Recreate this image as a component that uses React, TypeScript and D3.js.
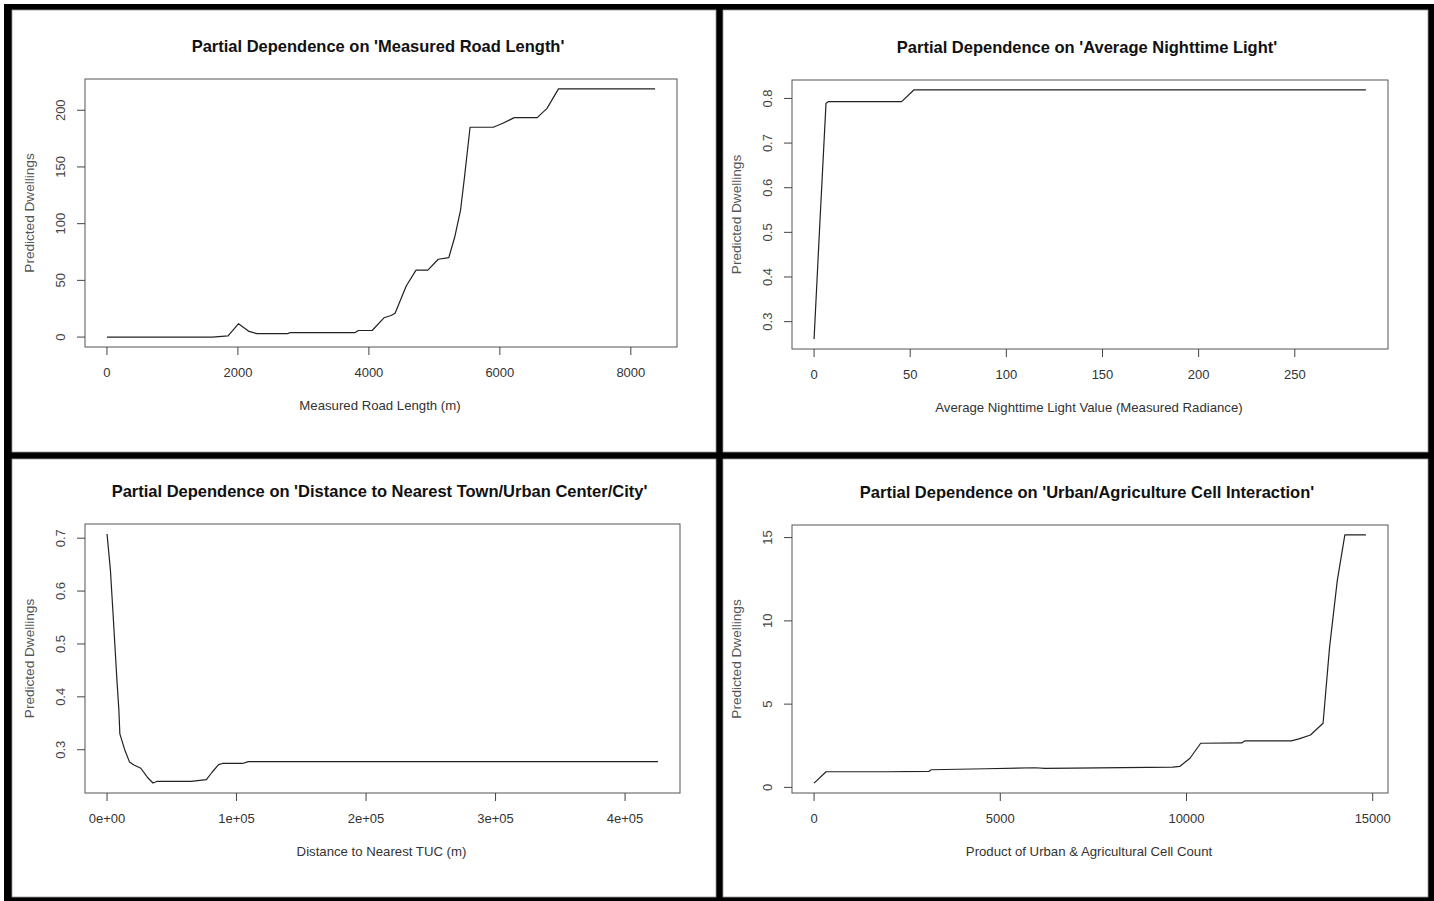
import React from "react";
import * as d3 from "d3";

// ---- data ----
const roadLengthX = [0, 1610, 1850, 2010, 2170, 2290, 2760, 2800, 3790, 3840, 4050, 4230, 4340, 4400, 4570, 4720, 4900, 5060, 5220, 5310, 5400, 5460, 5545, 5900, 6045, 6220, 6570, 6720, 6895, 8370];
const roadLengthY = [0, 0, 1, 11.8, 5, 3, 3, 4, 4, 5.8, 5.8, 17, 19, 21, 45, 59, 59, 68.6, 70, 88, 112, 141, 185, 185, 188.5, 193.5, 193.5, 201.7, 218.8, 218.8];
const roadTicksX = [0, 2000, 4000, 6000, 8000];
const roadTicksY = [0, 50, 100, 150, 200];

const nightLightX = [0, 3, 6.2, 7.6, 45.5, 51.9, 287];
const nightLightY = [0.261, 0.52, 0.789, 0.793, 0.793, 0.819, 0.819];
const lightTicksX = [0, 50, 100, 150, 200, 250];
const lightTicksY = [0.3, 0.4, 0.5, 0.6, 0.7, 0.8];

const distanceX = [0, 2600, 4600, 6100, 7600, 9100, 9900, 13500, 17300, 20800, 26100, 31100, 35500, 38400, 65000, 76700, 81100, 86100, 89100, 104600, 109100, 425400];
const distanceY = [0.708, 0.64, 0.559, 0.496, 0.433, 0.377, 0.33, 0.301, 0.277, 0.271, 0.265, 0.248, 0.237, 0.24, 0.24, 0.2435, 0.2574, 0.2718, 0.274, 0.274, 0.2775, 0.2775];
const distTicksX = [0, 100000, 200000, 300000, 400000];
const distTickLabels = ["0e+00", "1e+05", "2e+05", "3e+05", "4e+05"];
const distTicksY = [0.3, 0.4, 0.5, 0.6, 0.7];

const urbanAgX = [0, 322, 1934, 3080, 3144, 4604, 5935, 6200, 6964, 9632, 9818, 10094, 10381, 11481, 11561, 12814, 13021, 13329, 13667, 13842, 14048, 14252, 14818];
const urbanAgY = [0.26, 0.94, 0.94, 0.96, 1.06, 1.12, 1.18, 1.14, 1.16, 1.22, 1.26, 1.75, 2.65, 2.67, 2.79, 2.79, 2.91, 3.15, 3.85, 8.42, 12.4, 15.16, 15.16];
const urbanTicksX = [0, 5000, 10000, 15000];
const urbanTicksY = [0, 5, 10, 15];

const titles = [
  "Partial Dependence on 'Measured Road Length'",
  "Partial Dependence on 'Average Nighttime Light'",
  "Partial Dependence on 'Distance to Nearest Town/Urban Center/City'",
  "Partial Dependence on 'Urban/Agriculture Cell Interaction'",
];
const xLabels = [
  "Measured Road Length (m)",
  "Average Nighttime Light Value (Measured Radiance)",
  "Distance to Nearest TUC (m)",
  "Product of Urban & Agricultural Cell Count",
];
const yLabel = "Predicted Dwellings";

const W = 1434;
const H = 901;
const font = "'Liberation Sans', Arial, sans-serif";

type Box = { l: number; r: number; t: number; b: number };

// R style padding of the data range (4% each side)
const padded = (v: number[]): [number, number] => {
  const [lo, hi] = d3.extent(v) as [number, number];
  const p = (hi - lo) * 0.04;
  return [lo - p, hi + p];
};

const Panel = (props: {
  frame: [number, number, number, number];
  box: Box;
  xs: number[];
  ys: number[];
  xTicks: number[];
  xTickLabels: string[];
  yTicks: number[];
  title: string;
  xLabel: string;
}) => {
  const { frame, box, xs, ys, xTicks, xTickLabels, yTicks, title, xLabel } = props;
  const x = d3.scaleLinear().domain(padded(xs)).range([box.l, box.r]);
  const y = d3.scaleLinear().domain(padded(ys)).range([box.b, box.t]);
  const pts: [number, number][] = xs.map((d, i) => [d, ys[i]]);
  const line = d3
    .line<[number, number]>()
    .x((d) => x(d[0]))
    .y((d) => y(d[1]));
  const cx = (box.l + box.r) / 2 - 3;
  const cy = (box.t + box.b) / 2;

  return (
    <g>
      <rect x={frame[0]} y={frame[1]} width={frame[2] - frame[0]} height={frame[3] - frame[1]} fill="#fff" stroke="#999" strokeWidth={0.8} />
      <text x={cx} y={box.t - 32.5} dy="0.35em" textAnchor="middle" fontFamily={font} fontWeight="bold" fontSize={16.5} fill="#111">
        {title}
      </text>
      <rect x={box.l} y={box.t} width={box.r - box.l} height={box.b - box.t} fill="none" stroke="#555" strokeWidth={1} />
      {/* x axis */}
      {xTicks.map((t, i) => (
        <g key={"xt" + i}>
          <line x1={x(t)} x2={x(t)} y1={box.b} y2={box.b + 8} stroke="#444" strokeWidth={1} />
          <text x={x(t)} y={box.b + 25} dy="0.35em" textAnchor="middle" fontFamily={font} fontSize={13} fill="#333">
            {xTickLabels[i]}
          </text>
        </g>
      ))}
      {/* y axis */}
      {yTicks.map((t, i) => (
        <g key={"yt" + i}>
          <line x1={box.l - 8} x2={box.l} y1={y(t)} y2={y(t)} stroke="#444" strokeWidth={1} />
          <text transform={`translate(${box.l - 25},${y(t)}) rotate(-90)`} dy="0.35em" textAnchor="middle" fontFamily={font} fontSize={13} fill="#444">
            {String(t)}
          </text>
        </g>
      ))}
      <text x={cx + 2} y={box.b + 58.5} dy="0.35em" textAnchor="middle" fontFamily={font} fontSize={13.2} fill="#333">
        {xLabel}
      </text>
      <text transform={`translate(${box.l - 55.5},${cy}) rotate(-90)`} dy="0.35em" textAnchor="middle" fontFamily={font} fontSize={13.6} fill="#555">
        {yLabel}
      </text>
      <path d={line(pts) || ""} fill="none" stroke="#222" strokeWidth={1.2} strokeLinejoin="round" />
    </g>
  );
};

export default function App() {
  return (
    <div style={{ position: "absolute", left: 0, top: 0 }}>
      <svg width={W} height={H} style={{ display: "block" }}>
        <rect x={0} y={0} width={W} height={H} fill="#fff" />
        <rect x={4} y={4} width={W - 4} height={H - 4} fill="#000" />
        <Panel
          frame={[12, 10, 716, 452]}
          box={{ l: 85, r: 677, t: 79, b: 347 }}
          xs={roadLengthX}
          ys={roadLengthY}
          xTicks={roadTicksX}
          xTickLabels={roadTicksX.map(String)}
          yTicks={roadTicksY}
          title={titles[0]}
          xLabel={xLabels[0]}
        />
        <Panel
          frame={[723, 10, 1428, 452]}
          box={{ l: 792, r: 1388, t: 80, b: 349 }}
          xs={nightLightX}
          ys={nightLightY}
          xTicks={lightTicksX}
          xTickLabels={lightTicksX.map(String)}
          yTicks={lightTicksY}
          title={titles[1]}
          xLabel={xLabels[1]}
        />
        <Panel
          frame={[12, 459, 716, 897]}
          box={{ l: 85, r: 680, t: 524, b: 793 }}
          xs={distanceX}
          ys={distanceY}
          xTicks={distTicksX}
          xTickLabels={distTickLabels}
          yTicks={distTicksY}
          title={titles[2]}
          xLabel={xLabels[2]}
        />
        <Panel
          frame={[723, 459, 1428, 897]}
          box={{ l: 792, r: 1388, t: 525, b: 793 }}
          xs={urbanAgX}
          ys={urbanAgY}
          xTicks={urbanTicksX}
          xTickLabels={urbanTicksX.map(String)}
          yTicks={urbanTicksY}
          title={titles[3]}
          xLabel={xLabels[3]}
        />
      </svg>
    </div>
  );
}
